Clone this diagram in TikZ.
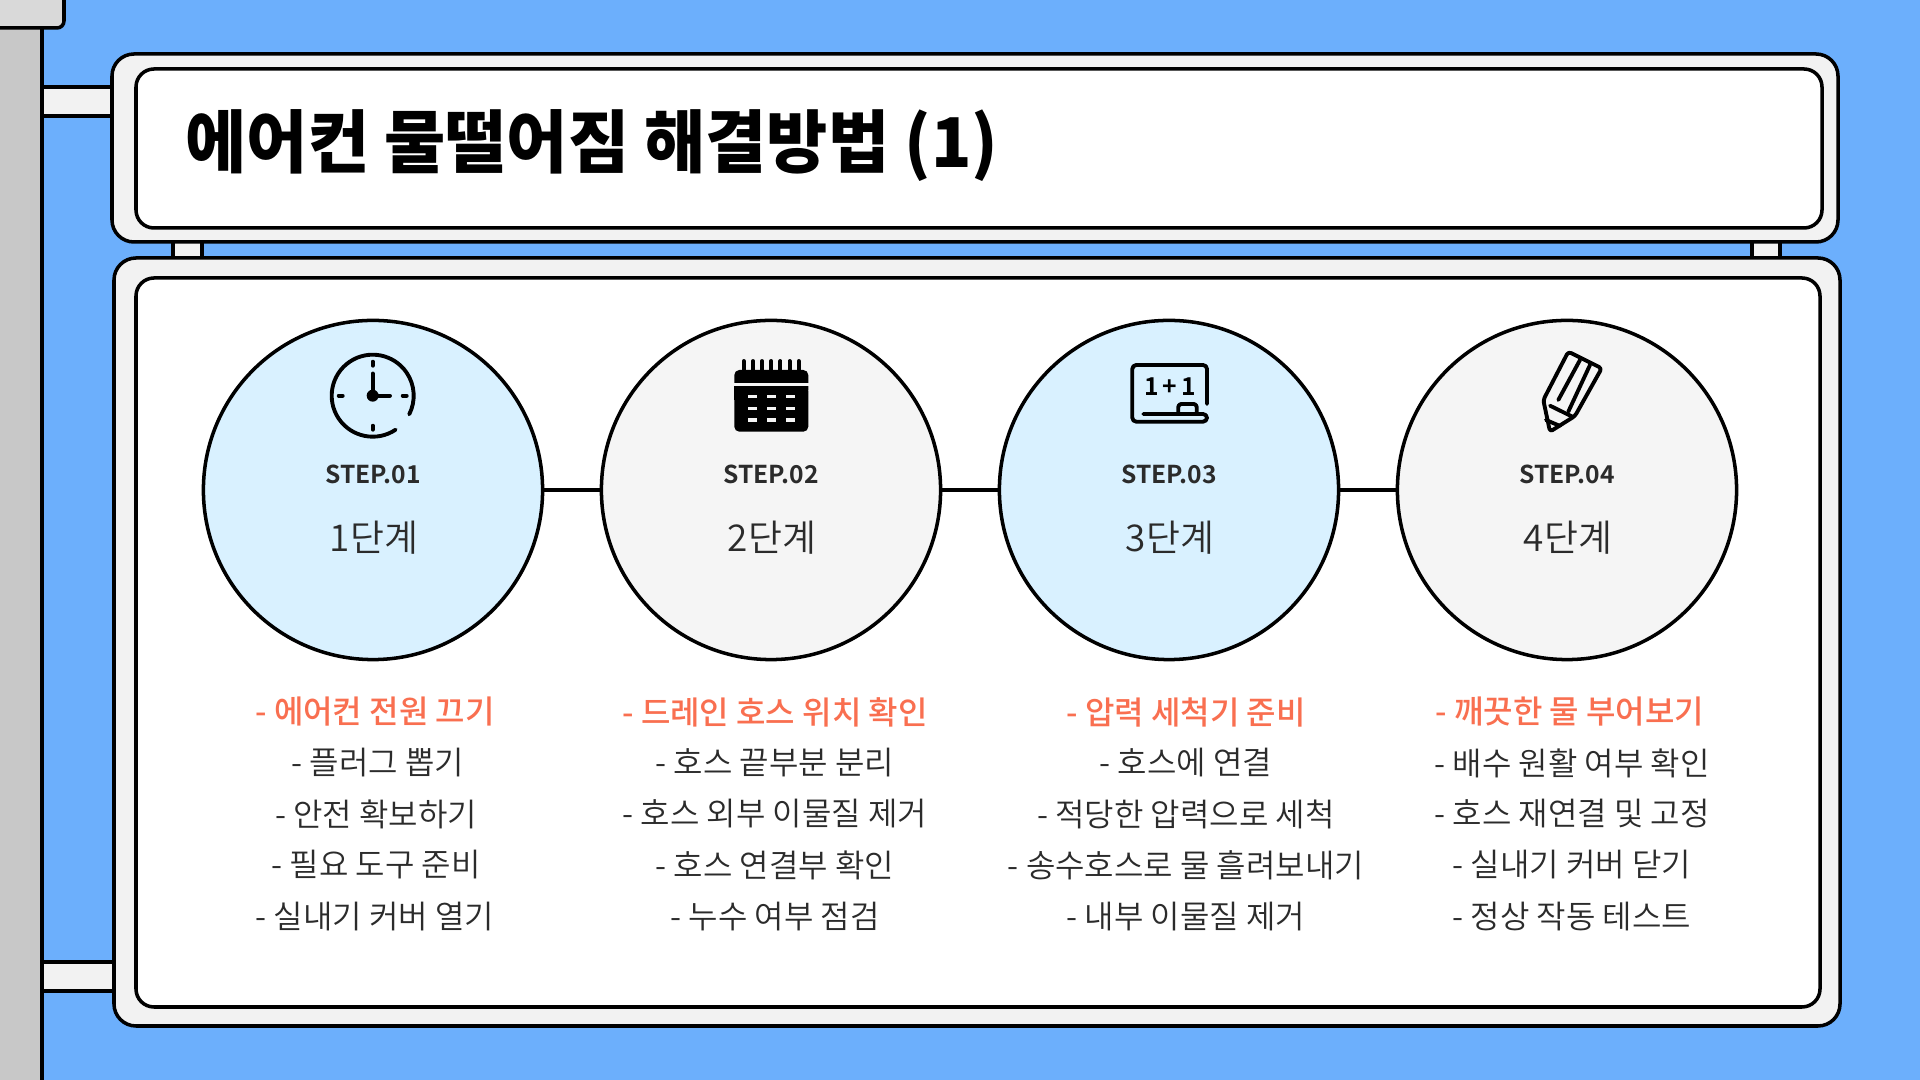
\documentclass[tikz,border=0pt]{standalone}
\usepackage{fontspec}
\setmainfont{Noto Sans CJK KR DemiLight}[BoldFont={Noto Sans CJK KR Bold}]
\newfontfamily\titlefont{Noto Sans CJK KR Black}[FakeStretch=0.97]
\newfontfamily\headfont{Noto Sans CJK KR Medium}
\usetikzlibrary{positioning}
\definecolor{skyback}{HTML}{6CAFFC}
\definecolor{poleback}{HTML}{C8C8C8}
\definecolor{capback}{HTML}{D9D9D9}
\definecolor{frameback}{HTML}{F2F2F2}
\definecolor{stepblue}{HTML}{D9F1FF}
\definecolor{stepgray}{HTML}{F5F5F5}
\definecolor{headred}{HTML}{F96F50}
\definecolor{darktext}{HTML}{2B2B2B}

\begin{document}
\begin{tikzpicture}[x=0.01cm, y=-0.01cm, line width=1pt,
                frame/.style={draw=black, fill=frameback, rounded corners=0.22cm},
                panel/.style={draw=black, fill=white, rounded corners=0.18cm},
                stepnode/.style={circle, draw=black, minimum size=3.39cm, inner sep=0pt},
                bluestep/.style={stepnode, fill=stepblue},
                graystep/.style={stepnode, fill=stepgray},
                steplabel/.style={font=\fontsize{7}{8}\selectfont\bfseries, text=darktext},
                stepname/.style={font=\fontsize{10.5}{12}\selectfont, text=darktext},
                headline/.style={font=\fontsize{9.1}{11}\headfont, text=headred},
                itemline/.style={font=\fontsize{9.1}{11}\selectfont, text=darktext},
                icon/.style={line width=1.1pt, line cap=round, line join=round}
            ]
                \useasboundingbox (0, 0) rectangle (1920, 1080);
                \fill[skyback] (0, 0) rectangle (1920, 1080);

                % post and arms
                \draw[fill=poleback] (-5, -5) rectangle (42, 1085);
                \draw[fill=capback, rounded corners=0.07cm] (-10, -10) rectangle (64, 28);
                \draw[fill=frameback] (42, 87) rectangle (114, 116);
                \draw[fill=frameback] (42, 962) rectangle (116, 991);
                \draw[fill=frameback] (173, 240) rectangle (202, 260);
                \draw[fill=frameback] (1752, 240) rectangle (1780, 260);

                % title sign
                \draw[frame] (112, 54) rectangle (1838, 242);
                \draw[panel] (136, 69) rectangle (1822, 228);
                \node[anchor=west, inner sep=0pt, font=\fontsize{19.5}{22}\titlefont, text=black] (title) at (184, 146) {에어컨 물떨어짐 해결방법 (1)};

                % body sign
                \draw[frame] (114, 258) rectangle (1840, 1026);
                \draw[panel] (136, 278) rectangle (1820, 1007);

                \node[bluestep] (one) at (373, 490) {};
                \node[graystep] (two) at (771, 490) {};
                \node[bluestep] (three) at (1169, 490) {};
                \node[graystep] (four) at (1567, 490) {};

                \draw (one) -- (two);
                \draw (two) -- (three);
                \draw (three) -- (four);

                \node[steplabel] (lab1) at (373, 474) {STEP.01};
                \node[steplabel] (lab2) at (771, 474) {STEP.02};
                \node[steplabel] (lab3) at (1169, 474) {STEP.03};
                \node[steplabel] (lab4) at (1567, 474) {STEP.04};
                \node[stepname] (name1) at (374, 538) {1단계};
                \node[stepname] (name2) at (772, 538) {2단계};
                \node[stepname] (name3) at (1170, 538) {3단계};
                \node[stepname] (name4) at (1568, 538) {4단계};

                % clock
                \draw[icon] (372.7, 395.7) ++(56:41) arc[start angle=56, end angle=387, radius=41];
                \fill (372.7, 395.7) circle[radius=6];
                \draw[icon] (372.7, 395.7) -- (372.7, 373.5);
                \draw[icon] (372.7, 395.7) -- (390, 395.7);
                \foreach \tick in {0, 90, 180, 270}
                    \draw[icon] (372.7, 395.7) ++(\tick:30) -- ++(\tick:4);

                % calendar
                \fill[rounded corners=0.05cm] (734.3, 370) rectangle (808.3, 395);
                \fill[rounded corners=0.05cm] (734.3, 386) rectangle (808.3, 431.7);
                \fill (734.3, 386) rectangle (808.3, 400);
                \fill[stepgray] (734, 382.7) rectangle (809, 386);
                \foreach \px in {743.7, 752.9, 762.1, 771.2, 780.4, 789.6, 798.7}
                    \draw[icon] (\px, 361) -- (\px, 372);
                \foreach \py in {395, 406.7, 418.3}
                    \foreach \qx in {747.7, 766.7, 785.7}
                        \fill[stepgray] (\qx, \py) rectangle ++(9, 3.3);

                % board
                \draw[icon, rounded corners=0.04cm] (1207, 404) -- (1207, 365) -- (1132.3, 365) -- (1132.3, 421.7) -- (1207, 421.7) -- (1207, 414) -- (1143.3, 414);
                \draw[icon, rounded corners=0.03cm] (1178.3, 414) -- (1178.3, 404) -- (1196.7, 404) -- (1196.7, 414);
                \node[font=\fontsize{7}{8}\selectfont\bfseries, inner sep=0pt] (sum) at (1170, 386.7) {1\,+\,1};

                % pencil
                \draw[icon, rounded corners=0.03cm] (1568.3, 351.7) -- (1601.7, 368.3) -- (1575, 416) -- (1550, 431.7) -- (1543.3, 400) -- cycle;
                \draw[icon] (1550, 405.7) -- (1573, 417);
                \draw[icon] (1580, 360) -- (1558.3, 400);
                \draw[icon] (1590, 365) -- (1568.3, 411.7);
                \draw[icon] (1546, 420) -- (1560, 426);

                % step lists
                \node[headline] (h1) at (375, 712) {- 에어컨 전원 끄기};
                \node[itemline] (a1) at (378, 763) {- 플러그 뽑기};
                \node[itemline] (a2) at (376, 814) {- 안전 확보하기};
                \node[itemline] (a3) at (376, 865) {- 필요 도구 준비};
                \node[itemline] (a4) at (375, 917) {- 실내기 커버 열기};

                \node[headline] (h2) at (775, 712) {- 드레인 호스 위치 확인};
                \node[itemline] (b1) at (775, 763) {- 호스 끝부분 분리};
                \node[itemline] (b2) at (775, 814) {- 호스 외부 이물질 제거};
                \node[itemline] (b3) at (775, 865) {- 호스 연결부 확인};
                \node[itemline] (b4) at (775, 917) {- 누수 여부 점검};

                \node[headline] (h3) at (1186, 712) {- 압력 세척기 준비};
                \node[itemline] (c1) at (1186, 763) {- 호스에 연결};
                \node[itemline] (c2) at (1186, 814) {- 적당한 압력으로 세척};
                \node[itemline] (c3) at (1186, 865) {- 송수호스로 물 흘려보내기};
                \node[itemline] (c4) at (1186, 917) {- 내부 이물질 제거};

                \node[headline] (h4) at (1570, 712) {- 깨끗한 물 부어보기};
                \node[itemline] (d1) at (1572, 763) {- 배수 원활 여부 확인};
                \node[itemline] (d2) at (1572, 814) {- 호스 재연결 및 고정};
                \node[itemline] (d3) at (1572, 865) {- 실내기 커버 닫기};
                \node[itemline] (d4) at (1572, 917) {- 정상 작동 테스트};
            \end{tikzpicture}
\end{document}
